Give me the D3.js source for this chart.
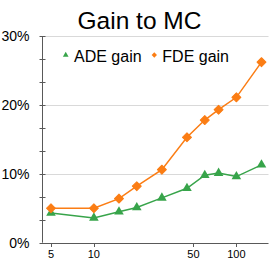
<!DOCTYPE html>
<html>
<head>
<meta charset="utf-8">
<script src="https://cdn.jsdelivr.net/npm/d3@7"></script>
<style>
  body { margin: 0; background: #fff; }
  svg { display: block; font-family: "Liberation Sans", Arial, sans-serif; }
</style>
</head>
<body>
<div id="chart"></div>
<script>
// data
const samples = [5, 10, 15, 20, 30, 45, 60, 75, 100, 150];
const adeGain = [4.3, 3.6, 4.5, 5.1, 6.5, 7.9, 9.8, 10.1, 9.6, 11.3];
const fdeGain = [5.0, 5.0, 6.4, 8.2, 10.6, 15.3, 17.8, 19.3, 21.1, 26.2];
const xTicks = [5, 10, 50, 100];
const yTicks = [0, 10, 20, 30];
const seriesNames = ['ADE gain', 'FDE gain'];

const W = 274, H = 274;
const green = '#37a44a', orange = '#fb7d14';

const svg = d3.select('#chart').append('svg').attr('width', W).attr('height', H);

// scales
const x = d3.scaleLog().domain([4.36, 168]).range([42.5, 268.5]);
const y = d3.scaleLinear().domain([0, 30]).range([242.7, 36]);

// title
svg.append('text')
    .attr('x', 139.5).attr('y', 29)
    .attr('text-anchor', 'middle')
    .attr('font-size', 24.5)
    .attr('fill', '#000')
    .text('Gain to MC');

// gridlines
svg.append('g').selectAll('line')
    .data(yTicks.slice(1))
    .enter().append('line')
    .attr('x1', 42.5).attr('x2', 268.5)
    .attr('y1', d => Math.round(y(d)) + 0.5)
    .attr('y2', d => Math.round(y(d)) + 0.5)
    .attr('stroke', '#d9d9d9').attr('stroke-width', 1);

// y axis
const yAxis = svg.append('g').attr('transform', 'translate(42.5,0)');
yAxis.append('line')
    .attr('y1', y(30)).attr('y2', y(0))
    .attr('stroke', '#595959');
yAxis.selectAll('.minor')
    .data(d3.range(0, 10).map(i => i * 10 / 3))
    .enter().append('line')
    .attr('x1', -3).attr('x2', 3)
    .attr('y1', d => Math.round(y(d)) + 0.5)
    .attr('y2', d => Math.round(y(d)) + 0.5)
    .attr('stroke', '#595959');
yAxis.selectAll('text')
    .data(yTicks)
    .enter().append('text')
    .attr('x', -13).attr('y', d => y(d) + 5)
    .attr('text-anchor', 'end')
    .attr('font-size', 14)
    .attr('fill', '#000')
    .text(d => d + '%');

// x axis
const xAxis = svg.append('g');
xAxis.append('line')
    .attr('x1', 42.5).attr('x2', 268.5)
    .attr('y1', 243.5).attr('y2', 243.5)
    .attr('stroke', '#595959');
xAxis.selectAll('.tick')
    .data(xTicks)
    .enter().append('line')
    .attr('x1', d => Math.round(x(d)) + 0.5)
    .attr('x2', d => Math.round(x(d)) + 0.5)
    .attr('y1', 243.5).attr('y2', 247)
    .attr('stroke', '#595959');
xAxis.selectAll('text')
    .data(xTicks)
    .enter().append('text')
    .attr('x', d => x(d))
    .attr('y', 257.5)
    .attr('text-anchor', 'middle')
    .attr('font-size', 11)
    .attr('fill', '#000')
    .text(d => d);

// lines
const line = d3.line().x(d => x(d[0])).y(d => y(d[1]));
const adePts = samples.map((s, i) => [s, adeGain[i]]);
const fdePts = samples.map((s, i) => [s, fdeGain[i]]);

svg.append('path').datum(adePts)
    .attr('d', line).attr('fill', 'none')
    .attr('stroke', green).attr('stroke-width', 1.5);
svg.append('path').datum(fdePts)
    .attr('d', line).attr('fill', 'none')
    .attr('stroke', orange).attr('stroke-width', 1.5);

// markers
const tri = d3.symbol().type(d3.symbolTriangle).size(40);
const dia = d3.symbol().type(d3.symbolSquare).size(40);

svg.append('g').selectAll('path')
    .data(adePts)
    .enter().append('path')
    .attr('d', tri)
    .attr('transform', d => `translate(${x(d[0])},${y(d[1])})`)
    .attr('fill', green);
svg.append('g').selectAll('path')
    .data(fdePts)
    .enter().append('path')
    .attr('d', dia)
    .attr('transform', d => `translate(${x(d[0])},${y(d[1])}) rotate(45)`)
    .attr('fill', orange)
    .attr('stroke', orange).attr('stroke-width', 1).attr('stroke-linejoin', 'round');

// legend
const legend = svg.append('g');
legend.append('path')
    .attr('d', d3.symbol().type(d3.symbolTriangle).size(14))
    .attr('transform', 'translate(65.7,55)')
    .attr('fill', green);
legend.append('text')
    .attr('x', 74).attr('y', 61.5)
    .attr('font-size', 16).attr('fill', '#000')
    .text(seriesNames[0]);
legend.append('path')
    .attr('d', d3.symbol().type(d3.symbolSquare).size(14))
    .attr('transform', 'translate(154.3,55) rotate(45)')
    .attr('fill', orange);
legend.append('text')
    .attr('x', 162.3).attr('y', 61.5)
    .attr('font-size', 16).attr('fill', '#000')
    .text(seriesNames[1]);
</script>
</body>
</html>
